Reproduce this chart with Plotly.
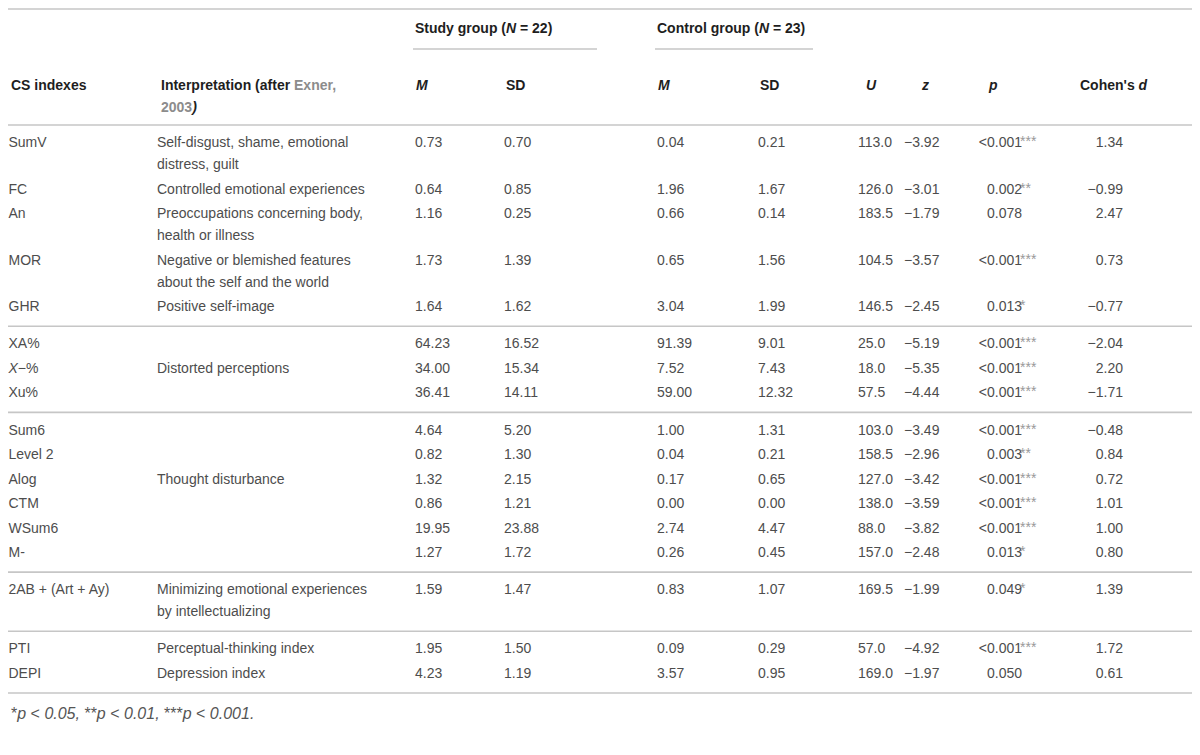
import plotly.graph_objects as go

# table content
cs_indexes = ["SumV", "FC", "An", "MOR", "GHR", "XA%", "<i>X</i>−%", "Xu%", "Sum6", "Level 2",
              "Alog", "CTM", "WSum6", "M-", "2AB + (Art + Ay)", "PTI", "DEPI"]
interpretation = [
    "Self-disgust, shame, emotional<br>distress, guilt",
    "Controlled emotional experiences",
    "Preoccupations concerning body,<br>health or illness",
    "Negative or blemished features<br>about the self and the world",
    "Positive self-image",
    "", "Distorted perceptions", "",
    "", "", "Thought disturbance", "", "", "",
    "Minimizing emotional experiences<br>by intellectualizing",
    "Perceptual-thinking index",
    "Depression index",
]
study_m = ["0.73", "0.64", "1.16", "1.73", "1.64", "64.23", "34.00", "36.41", "4.64", "0.82",
           "1.32", "0.86", "19.95", "1.27", "1.59", "1.95", "4.23"]
study_sd = ["0.70", "0.85", "0.25", "1.39", "1.62", "16.52", "15.34", "14.11", "5.20", "1.30",
            "2.15", "1.21", "23.88", "1.72", "1.47", "1.50", "1.19"]
control_m = ["0.04", "1.96", "0.66", "0.65", "3.04", "91.39", "7.52", "59.00", "1.00", "0.04",
             "0.17", "0.00", "2.74", "0.26", "0.83", "0.09", "3.57"]
control_sd = ["0.21", "1.67", "0.14", "1.56", "1.99", "9.01", "7.43", "12.32", "1.31", "0.21",
              "0.65", "0.00", "4.47", "0.45", "1.07", "0.29", "0.95"]
u_values = ["113.0", "126.0", "183.5", "104.5", "146.5", "25.0", "18.0", "57.5", "103.0", "158.5",
            "127.0", "138.0", "88.0", "157.0", "169.5", "57.0", "169.0"]
z_values = ["−3.92", "−3.01", "−1.79", "−3.57", "−2.45", "−5.19", "−5.35", "−4.44", "−3.49", "−2.96",
            "−3.42", "−3.59", "−3.82", "−2.48", "−1.99", "−4.92", "−1.97"]
p_values = ["<0.001", "0.002", "0.078", "<0.001", "0.013", "<0.001", "<0.001", "<0.001", "<0.001",
            "0.003", "<0.001", "<0.001", "<0.001", "0.013", "0.049", "<0.001", "0.050"]
p_stars = ["***", "**", "", "***", "*", "***", "***", "***", "***", "**", "***", "***", "***",
           "*", "*", "***", ""]
cohens_d = ["1.34", "−0.99", "2.47", "0.73", "−0.77", "−2.04", "2.20", "−1.71", "−0.48", "0.84",
            "0.72", "1.01", "1.00", "0.80", "1.39", "1.72", "0.61"]
group_sizes = [5, 3, 6, 1, 2]
footnote = "*<i>p</i> < <i>0.05, </i>**<i>p</i> < <i>0.01, </i>***<i>p</i> < <i>0.001.</i>"

# layout constants (pixels, y grows downward)
W, H = 1200, 755
FONT = "Liberation Sans"
BODY = "#4d4d4d"
HEAD = "#1e1e1e"
LINK = "#8c8c8c"
RULE = "#c6c6c6"
SIZE = 14

TOP_RULE_Y = 1
GROUP_Y = 20
GROUP_RULE_Y = 41
HEAD_Y = 77
HEAD_RULE_Y = 117
PAD = 18.6
ROW_STEP = 24.5
LINE_STEP = 22

X_CS = 0.5
X_INT = 151
X_SM, X_SSD, X_CM, X_CSD = 405, 496, 647, 750
X_U, X_Z = 852, 898
X_P = 1012   # right edge of the p number, stars follow
X_D = 1113   # right edge of Cohen's d

# row positions
row_y = []
rule_y = [HEAD_RULE_Y]
y = HEAD_RULE_Y
i = 0
for g in group_sizes:
    y += PAD
    for _ in range(g):
        row_y.append(y)
        y += ROW_STEP + interpretation[i].count("<br>") * LINE_STEP
        i += 1
    y += PAD - ROW_STEP
    rule_y.append(y)

int_x, int_y, int_t = [], [], []
for ry, txt in zip(row_y, interpretation):
    for j, line in enumerate(txt.split("<br>")):
        if line:
            int_x.append(X_INT - 2)
            int_y.append(ry + j * LINE_STEP)
            int_t.append(line)

fig = go.Figure()


def add_col(x, ys, texts, pos, color=BODY, size=SIZE):
    xs = x if isinstance(x, list) else [x] * len(ys)
    fig.add_trace(go.Scatter(
        x=xs, y=ys, text=texts, mode="text", textposition=pos, cliponaxis=False,
        textfont=dict(family=FONT, size=size, color=color),
        hoverinfo="skip", showlegend=False,
    ))


add_col(X_CS, row_y, cs_indexes, "middle right")
add_col(int_x, int_y, int_t, "middle right")
add_col(X_SM + 2, row_y, study_m, "middle right")
add_col(X_SSD, row_y, study_sd, "middle right")
add_col(X_CM + 2, row_y, control_m, "middle right")
add_col(X_CSD, row_y, control_sd, "middle right")
add_col(X_U - 2, row_y, u_values, "middle right")
add_col(X_Z - 2, row_y, z_values, "middle right")
add_col(X_P + 2, row_y, [p.replace("<", "&lt;") for p in p_values], "middle left")
add_col(X_P, [v - 1 for v in row_y], p_stars, "middle right", color="#999999", size=SIZE)
add_col(X_D + 2, row_y, cohens_d, "middle left")

# header texts
headers = [
    (X_SM, GROUP_Y, "<b>Study group (<i>N</i> = 22)</b>"),
    (X_CM, GROUP_Y, "<b>Control group (<i>N</i> = 23)</b>"),
    (X_CS + 0.5, HEAD_Y, "<b>CS indexes</b>"),
    (X_INT, HEAD_Y, f"<b>Interpretation (after <span style='color:{LINK}'>Exner,</span></b>"),
    (X_INT, HEAD_Y + LINE_STEP, f"<b><span style='color:{LINK}'>2003</span><i>)</i></b>"),
    (X_SM + 1, HEAD_Y, "<b><i>M</i></b>"),
    (X_SSD, HEAD_Y, "<b>SD</b>"),
    (X_CM + 1, HEAD_Y, "<b><i>M</i></b>"),
    (X_CSD, HEAD_Y, "<b>SD</b>"),
    (X_U + 4, HEAD_Y, "<b><i>U</i></b>"),
    (X_Z + 13, HEAD_Y, "<b><i>z</i></b>"),
    (X_P - 34, HEAD_Y, "<b><i>p</i></b>"),
    (X_D - 43, HEAD_Y, "<b>Cohen's <i>d</i></b>"),
]
for hx, hy, ht in headers:
    fig.add_annotation(x=hx, y=hy, text=ht, xref="x", yref="y", xanchor="left", yanchor="middle",
                       showarrow=False, font=dict(family=FONT, size=SIZE, color=HEAD))

fig.add_annotation(x=X_CS + 0.5, y=rule_y[-1] + 20, text=footnote, xref="x", yref="y", xanchor="left",
                   yanchor="middle", showarrow=False, font=dict(family=FONT, size=SIZE + 2, color="#555"))

# rules
for ry in [TOP_RULE_Y] + rule_y:
    fig.add_shape(type="line", xref="x", yref="y", x0=0, x1=W, y0=ry, y1=ry,
                  line=dict(color=RULE, width=1.6))
fig.add_shape(type="line", xref="x", yref="y", x0=X_SM, x1=589, y0=GROUP_RULE_Y, y1=GROUP_RULE_Y,
              line=dict(color=RULE, width=1.6))
fig.add_shape(type="line", xref="x", yref="y", x0=X_CM, x1=805, y0=GROUP_RULE_Y, y1=GROUP_RULE_Y,
              line=dict(color=RULE, width=1.6))

fig.update_layout(
    width=W, height=H,
    margin=dict(l=0, r=0, t=0, b=0),
    paper_bgcolor="white", plot_bgcolor="white",
    xaxis=dict(range=[0, W], visible=False, fixedrange=True),
    yaxis=dict(range=[H, 0], visible=False, fixedrange=True),
)

fig.write_html("out.html")
